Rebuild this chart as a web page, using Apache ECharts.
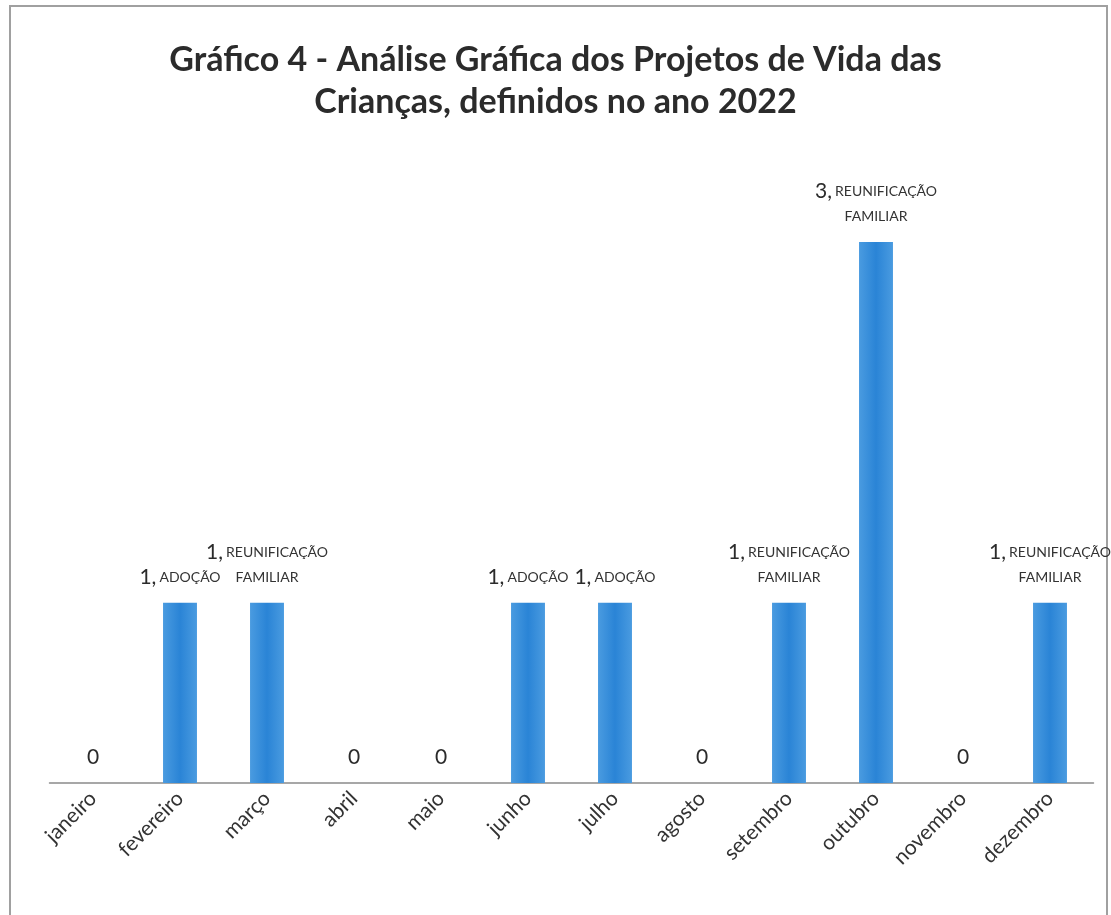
<!DOCTYPE html>
<html>
<head>
<meta charset="utf-8">
<script src="https://cdn.jsdelivr.net/npm/echarts@6/dist/echarts.min.js"></script>
<style>
  html, body { margin: 0; padding: 0; background: #fff; }
  #chart { width: 1111px; height: 915px; }
</style>
</head>
<body>
<div id="chart"></div>
<script>
// dados
const months = ['janeiro', 'fevereiro', 'março', 'abril', 'maio', 'junho',
  'julho', 'agosto', 'setembro', 'outubro', 'novembro', 'dezembro'];
const counts = [0, 1, 1, 0, 0, 1, 1, 0, 1, 3, 0, 1];
const projects = ['', 'ADOÇÃO', 'REUNIFICAÇÃO FAMILIAR', '', '', 'ADOÇÃO', 'ADOÇÃO',
  '', 'REUNIFICAÇÃO FAMILIAR', 'REUNIFICAÇÃO FAMILIAR', '', 'REUNIFICAÇÃO FAMILIAR'];

const chart = echarts.init(document.getElementById('chart'));

// rótulo estilo Excel: valor + projeto em versalete
const labelFmt = (p) => {
  const proj = projects[p.dataIndex];
  if (!proj) return '{v|' + p.value + '}';
  const words = proj.split(' ');
  if (words.length === 1) return '{v|' + p.value + ',} {t|' + words[0] + '}';
  return '{v|' + p.value + ',} {t|' + words[0] + '}\n{t|' + words.slice(1).join(' ') + '}';
};

chart.setOption({
  animation: false,
  backgroundColor: '#fff',
  textStyle: { fontFamily: 'Lato, "Open Sans", sans-serif' },
  title: {
    text: 'Gráfico 4 - Análise Gráfica dos Projetos de Vida das\nCrianças, definidos no ano 2022',
    left: 'center',
    top: 34,
    textStyle: { fontSize: 34, fontWeight: 'bold', color: '#2b2b2b', lineHeight: 42 }
  },
  graphic: [{
    type: 'rect',
    shape: { x: 10, y: 6, width: 1097, height: 930 },
    style: { fill: 'none', stroke: '#a0a0a0', lineWidth: 2 }
  }],
  grid: { left: 49.5, right: 17.5, top: 242, bottom: 132 },
  xAxis: {
    type: 'category',
    data: months,
    axisTick: { show: false },
    axisLine: { lineStyle: { color: '#8a8a8a', width: 1.5 } },
    axisLabel: { rotate: 45, fontSize: 21, color: '#333', margin: 12 }
  },
  yAxis: {
    type: 'value',
    min: 0,
    max: 3,
    show: false,
    splitLine: { show: false }
  },
  series: [{
    type: 'bar',
    data: counts,
    barWidth: '39%',
    itemStyle: {
      color: {
        type: 'linear', x: 0, y: 0, x2: 1, y2: 0,
        colorStops: [
          { offset: 0, color: '#4a9be0' },
          { offset: 0.5, color: '#2a84d6' },
          { offset: 1, color: '#4a9be0' }
        ]
      }
    },
    label: {
      show: true,
      position: 'top',
      distance: 13,
      align: 'center',
      formatter: labelFmt,
      rich: {
        v: { fontSize: 21, color: '#2b2b2b', lineHeight: 25 },
        t: { fontSize: 14, color: '#333', lineHeight: 25 }
      }
    }
  }]
});
</script>
</body>
</html>
